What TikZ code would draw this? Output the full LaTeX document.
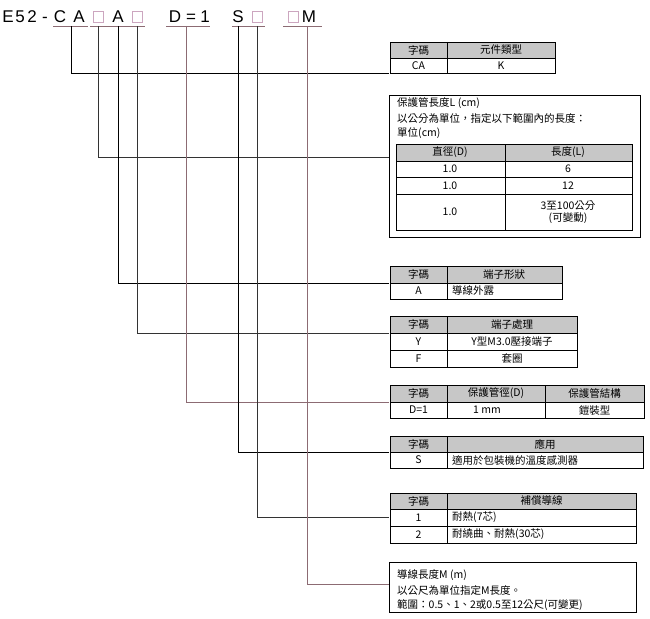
\documentclass[tikz,border=0pt]{standalone}
\usepackage{fontspec}
\setmainfont{Liberation Sans}
\newfontfamily\cjk{Noto Sans CJK TC}
\usetikzlibrary{positioning}
\definecolor{hgray}{rgb}{0.78, 0.78, 0.78}
\definecolor{lbrown}{rgb}{0.55, 0.42, 0.45}
\definecolor{sqcol}{rgb}{0.8, 0.65, 0.75}
\tikzset{
  hdr/.style={fill=hgray},
  cell/.style={font=\cjk\fontsize{10.5}{12}\selectfont, inner sep=1pt},
  lcell/.style={cell, anchor=west},
  lead/.style={line width=0.8pt},
  big/.style={font=\fontsize{17}{18}\selectfont, inner sep=0pt, anchor=base}
}
\newcommand{\tabgrid}[4]{% x1, x2, y-list of lines, split list
  \foreach \yy in {#3} \draw (#1,\yy) -- (#2,\yy);
}
\begin{document}
\begin{tikzpicture}[x=1pt, y=-1pt]
  \useasboundingbox (0,0) rectangle (650,618);

  % code line
  \foreach \cx/\ch/\nm in {8/E/e, 20/5/five, 32/2/two, 60/C/c, 79/A/a1, 118/A/a2, 175/D/d, 191/=/eq, 205/1/one, 238/S/s, 309/M/m}
    \node[big] (\nm) at (\cx,23) {\ch};
  \node[big] (dash) at (45,23) {-};
  \foreach \sx in {98, 137, 257, 293}
    \draw[sqcol, line width=0.6pt] (\sx-5,11) rectangle (\sx+5,22);
  \foreach \ua/\ub in {53/88, 90/145, 166/210, 232/265, 283/322}
    \draw[lbrown] (\ua,26) -- (\ub,26);

  % leads from code to tables
  \foreach \lx/\ly/\lc/\nm in {71/73/black/ta, 98/157/black!80/tb, 118/283/black/tc, 137/333/black!80/td,
                             186/402/lbrown/te, 238/452/black/tf, 257/517/black!80/tg, 307/584/lbrown/th}{
    \coordinate (\nm) at (389,\ly);
    \draw[lead, \lc] (\lx,26) |- (\nm);
  }

  % table: 元件類型
  \draw[hdr] (390,42) rectangle (555,58);
  \draw (390,42) rectangle (555,73) (447,42) -- (447,73) (390,58) -- (555,58);
  \node[cell] (a1) at (418.5,50) {字碼};
  \node[cell] at (501,50) {元件類型};
  \node[cell] at (418.5,66) {CA};
  \node[cell] at (501,66) {K};

  % box: 保護管長度
  \draw (389,95) rectangle (640,237);
  \node[lcell] (b1) at (396,103) {保護管長度L (cm)};
  \node[lcell] at (396,118) {以公分為單位，指定以下範圍內的長度：};
  \node[lcell] at (396,133) {單位(cm)};
  \draw[hdr] (396,144) rectangle (632,161);
  \draw (396,144) rectangle (632,230) (505,144) -- (505,230);
  \tabgrid{396}{632}{161,177,194}{}
  \node[cell] at (450,152.5) {直徑(D)};
  \node[cell] at (568,152.5) {長度(L)};
  \node[cell] at (450,169) {1.0};
  \node[cell] at (568,169) {6};
  \node[cell] at (450,185.5) {1.0};
  \node[cell] at (568,185.5) {12};
  \node[cell] at (450,212) {1.0};
  \node[cell, align=center] at (568,212) {3至100公分\\(可變動)};

  % table: 端子形狀
  \draw[hdr] (390,266) rectangle (562,283);
  \draw (390,266) rectangle (562,299) (447,266) -- (447,299);
  \node[cell] at (418.5,274.5) {字碼};
  \node[cell] at (504,274.5) {端子形狀};
  \node[cell] at (418.5,291) {A};
  \node[lcell] at (451,291) {導線外露};

  % table: 端子處理
  \draw[hdr] (390,316) rectangle (577,333);
  \draw (390,316) rectangle (577,367) (447,316) -- (447,367);
  \tabgrid{390}{577}{350}{}
  \node[cell] at (418.5,324.5) {字碼};
  \node[cell] at (512,324.5) {端子處理};
  \node[cell] at (418.5,341.5) {Y};
  \node[cell] at (512,341.5) {Y型M3.0壓接端子};
  \node[cell] at (418.5,358.5) {F};
  \node[cell] at (512,358.5) {套圈};

  % table: 保護管徑 / 結構
  \draw[hdr] (390,385) rectangle (644,402);
  \draw (390,385) rectangle (644,418) (447,385) -- (447,418) (545,385) -- (545,418);
  \node[cell] at (418.5,393.5) {字碼};
  \node[cell] at (496,393.5) {保護管徑(D)};
  \node[cell] at (594.5,393.5) {保護管結構};
  \node[cell] at (418.5,410) {D=1};
  \node[cell] at (487,410) {1 mm};
  \node[cell] at (594.5,410) {鎧裝型};

  % table: 應用
  \draw[hdr] (390,436) rectangle (643,452);
  \draw (390,436) rectangle (643,468) (447,436) -- (447,468);
  \node[cell] at (418.5,444) {字碼};
  \node[cell] at (545,444) {應用};
  \node[cell] at (418.5,460) {S};
  \node[lcell] at (451,460) {適用於包裝機的溫度感測器};

  % table: 補償導線
  \draw[hdr] (390,493) rectangle (636,509);
  \draw (390,493) rectangle (636,543) (447,493) -- (447,543);
  \tabgrid{390}{636}{526}{}
  \node[cell] at (418.5,501) {字碼};
  \node[cell] at (541.5,501) {補償導線};
  \node[cell] at (418.5,517.5) {1};
  \node[lcell] at (451,517.5) {耐熱(7芯)};
  \node[cell] at (418.5,534.5) {2};
  \node[lcell] at (451,534.5) {耐繞曲、耐熱(30芯)};

  % box: 導線長度
  \draw (389,562) rectangle (636,612);
  \node[lcell] at (396,575) {導線長度M (m)};
  \node[lcell] at (396,590) {以公尺為單位指定M長度。};
  \node[lcell] at (396,605) {範圍：0.5、1、2或0.5至12公尺(可變更)};
\end{tikzpicture}
\end{document}
